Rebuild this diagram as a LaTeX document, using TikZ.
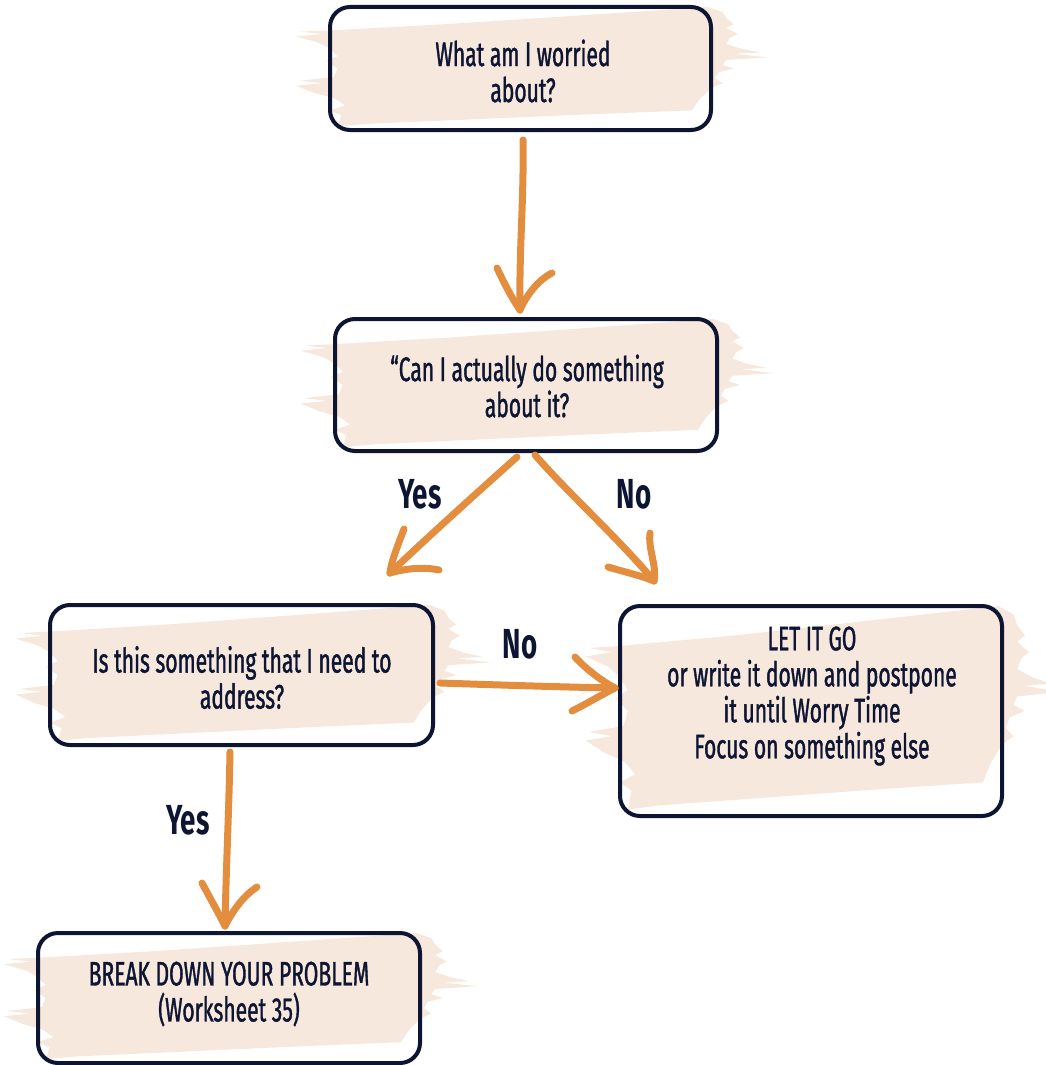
\documentclass[tikz,border=0pt]{standalone}
\usepackage{fontspec}
\setmainfont{Fira Sans}[FakeStretch=0.62, UprightFeatures={FakeBold=1.1}]
\newfontfamily\answerfont{Fira Sans}[FakeStretch=0.66]
\usetikzlibrary{calc}
\definecolor{navy}{RGB}{14,21,50}
\definecolor{brushc}{RGB}{246,232,220}
\definecolor{ochre}{RGB}{226,142,62}
\tikzset{
  box/.style={draw=navy, line width=4pt, rounded corners=20pt, inner sep=0pt},
  boxtext/.style={text=navy, align=center, inner sep=0pt,
    font=\fontsize{34}{36}\selectfont},
  flow/.style={draw=ochre, line width=7pt, line cap=round, line join=round},
  answer/.style={text=navy, inner sep=0pt,
    font=\answerfont\bfseries\fontsize{42}{44}\selectfont},
}
% painted brush stroke behind a box: left, top, width, height
\newcommand\brushfill[4]{%
  \begin{scope}[shift={(#1,#2)}, xscale=#3/100, yscale=#4/100]
    \fill[brushc] (0,19) -- (30,14) -- (60,8) -- (99,0)
      -- (103,4) -- (104,9) -- (106,14) -- (104,17) -- (107,22) -- (105,25)
      -- (104,30) -- (108,34) -- (113,37) -- (106,38) -- (115,41) -- (104,43)
      -- (103,47) -- (106,50) -- (102,53) -- (101,58) -- (103,62) -- (100,66)
      -- (97,75) -- (95,84) -- (70,87) -- (40,91) -- (10,95) -- (2,97)
      -- (3,88) -- (0,84) -- (4,80) -- (1,74) -- (-4,70) -- (-9,64) -- (-2,62)
      -- (-8,60) -- (1,57) -- (2,50) -- (-1,44) -- (2,40) -- (0,34) -- (-3,29)
      -- (-9,24) -- (-2,22) -- (-8,20) -- cycle;
  \end{scope}}
\begin{document}
\begin{tikzpicture}[x=1pt, y=-1pt]
  \useasboundingbox (0,0) rectangle (1045,1065);

  % brush strokes
  \brushfill{330}{7}{381}{123}
  \brushfill{335}{319}{382}{132}
  \brushfill{50}{605}{383}{140}
  \brushfill{620}{606}{382}{210}
  \brushfill{38}{933}{382}{130}

  % boxes
  \node[box, minimum width=381pt, minimum height=123pt] (q1) at (520.5,68.5) {};
  \node[box, minimum width=382pt, minimum height=132pt] (q2) at (526,385) {};
  \node[box, minimum width=383pt, minimum height=140pt] (q3) at (241.5,675) {};
  \node[box, minimum width=382pt, minimum height=210pt] (q4) at (811,711) {};
  \node[box, minimum width=382pt, minimum height=130pt] (q5) at (229,998) {};

  % box texts
  \node[boxtext] (q1t) at (523,71) {What am I worried\\about?};
  \node[boxtext] (q2t) at (527,386) {“Can I actually do something\\about it?};
  \node[boxtext] (q3t) at (242,677.5) {Is this something that I need to\\address?};
  \node[boxtext] (q4t) at (812,696) {LET IT GO\\or write it down and postpone\\it until Worry Time\\Focus on something else};
  \node[boxtext] (q5t) at (229,994) {BREAK DOWN YOUR PROBLEM\\(Worksheet 35)};

  % arrow tips and tails
  \coordinate (tipA) at ($(q2.north)+(-6,-7)$);
  \coordinate (tipB) at ($(q3.north east)+(-45,-30)$);
  \coordinate (tipC) at ($(q4.north west)+(36,-23)$);
  \coordinate (tipD) at ($(q4.west)+(-3,-23)$);
  \coordinate (tipE) at ($(q5.north)+(-4,-5)$);
  \coordinate (tailA) at ($(q1.south)+(2.5,8)$);
  \coordinate (tailB) at ($(q2.south)+(-9,4)$);
  \coordinate (tailC) at ($(q2.south)+(9,2)$);
  \coordinate (tailD) at ($(q3.east)+(5,8)$);
  \coordinate (tailE) at ($(q3.south)+(-11.5,5)$);

  % shafts
  \draw[flow] (tailA) .. controls (524,200) and (519,250) .. (tipA);
  \draw[flow] (tailB) .. controls (480,490) and (430,535) .. (tipB);
  \draw[flow] (tailC) .. controls (570,495) and (620,540) .. (tipC);
  \draw[flow] (tailD) .. controls (500,685) and (560,687) .. (tipD);
  \draw[flow] (tailE) .. controls (229,810) and (226,870) .. (tipE);

  % hand-drawn heads
  \draw[flow] (497,268) .. controls (505,285) and (513,300) .. (tipA);
  \draw[flow] (552,273) .. controls (538,280) and (526,296) .. (tipA);
  \draw[flow] (404,529) .. controls (398,545) and (391,562) .. (tipB);
  \draw[flow] (439,570) .. controls (420,566) and (400,570) .. (tipB);
  \draw[flow] (650,533) .. controls (648,550) and (657,565) .. (tipC);
  \draw[flow] (608,567) .. controls (625,572) and (642,576) .. (tipC);
  \draw[flow] (575,657) .. controls (585,668) and (600,680) .. (tipD);
  \draw[flow] (572,711) .. controls (588,703) and (603,694) .. (tipD);
  \draw[flow] (202,883) .. controls (210,898) and (219,914) .. (tipE);
  \draw[flow] (257,887) .. controls (243,896) and (232,912) .. (tipE);

  % answers
  \node[answer] (yesA) at (420,494) {Yes};
  \node[answer] (noA) at (634,494) {No};
  \node[answer] (noB) at (520,644) {No};
  \node[answer] (yesB) at (188,820) {Yes};
\end{tikzpicture}
\end{document}
